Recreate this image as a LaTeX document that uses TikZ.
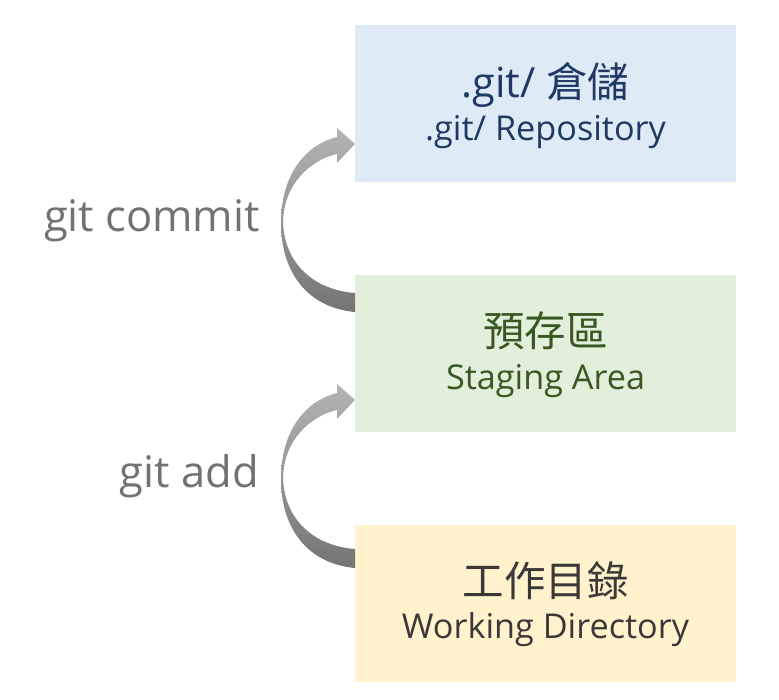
\documentclass[tikz,border=0pt]{standalone}
\usepackage{fontspec}
\setmainfont{Open Sans}
\newfontfamily\cjk{Noto Sans CJK TC}
\definecolor{repofill}{RGB}{222,235,247}
\definecolor{stagefill}{RGB}{226,239,218}
\definecolor{workfill}{RGB}{255,242,204}
\definecolor{repotext}{RGB}{31,56,100}
\definecolor{stagetext}{RGB}{56,87,35}
\definecolor{worktext}{RGB}{59,56,56}
\definecolor{labeltext}{RGB}{118,113,113}
\definecolor{arrowlight}{RGB}{180,180,180}
\definecolor{arrowmid}{RGB}{150,148,148}
\definecolor{arrowdark}{RGB}{118,115,115}
\begin{document}
\begin{tikzpicture}[x=1pt,y=-1pt,
  area/.style={minimum width=381pt,minimum height=157pt,inner sep=0pt,draw=none,anchor=north west},
  bigline/.style={anchor=base,inner sep=0pt,font=\fontsize{41.5}{46}\selectfont},
  cjkline/.style={anchor=base,inner sep=0pt,font=\cjk\fontsize{41.5}{46}\selectfont},
  smallline/.style={anchor=base,inner sep=0pt,font=\fontsize{34.2}{40}\selectfont},
  cmd/.style={anchor=base east,inner sep=0pt,text=labeltext,font=\fontsize{43.5}{48}\selectfont},
  curvearrow/.style={draw=none,top color=arrowlight,bottom color=arrowdark,middle color=arrowmid}]
\fill[white] (0,0) rectangle (779,700);
\useasboundingbox (0,0) rectangle (779,700);
% boxes
\node[area,fill=repofill] (repo) at (355,25) {};
\node[area,fill=stagefill] (stage) at (355,274.5) {};
\node[area,fill=workfill] (work) at (355,524.5) {};
% texts
\node[bigline,text=repotext] (repoA) at (545.5,98) {.git/ {\cjk 倉儲}};
\node[smallline,text=repotext] (repoB) at (545.5,141) {.git/ Repository};
\node[cjkline,text=stagetext] (stageA) at (545.5,347) {預存區};
\node[smallline,text=stagetext] (stageB) at (545.5,390) {Staging Area};
\node[cjkline,text=worktext] (workA) at (545.5,596) {工作目錄};
\node[smallline,text=worktext] (workB) at (545.5,638) {Working Directory};
% labels
\node[cmd] (commit) at (260,232) {git commit};
\node[cmd] (add) at (259,487) {git add};
% curved block arrows
\foreach \dy in {0,256}{
\begin{scope}[shift={(0,\dy)}]
\shade[curvearrow] (355,312) .. controls (310,308) and (281,275) .. (281,223)
  .. controls (281,175) and (305,145) .. (337,137) -- (337,128) -- (355,144)
  -- (337,163) -- (337,154) .. controls (310,160) and (283,185) .. (283,223)
  .. controls (285,265) and (315,290) .. (355,293) -- cycle;
\end{scope}}
\end{tikzpicture}
\end{document}
